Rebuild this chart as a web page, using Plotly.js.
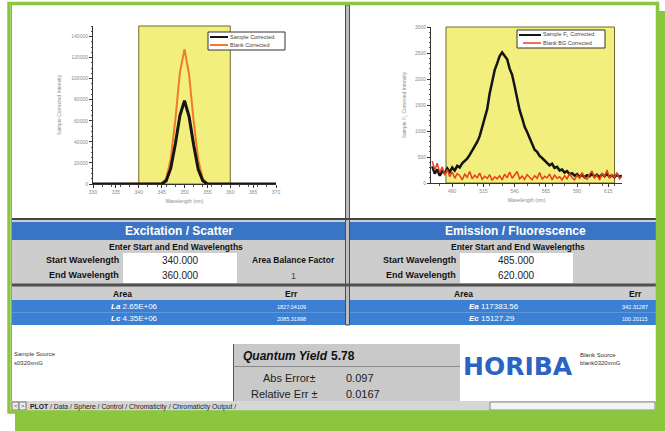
<!DOCTYPE html>
<html>
<head>
<meta charset="utf-8">
<script src="https://cdn.plot.ly/plotly-3.0.1.min.js"></script>
<style>html,body{margin:0;padding:0;background:#fff;}#chart{width:665px;height:431px;}</style>
</head>
<body>
<div id="chart"></div>
<script>
// ---------- data ----------
const exWavelength = [330, 335, 340, 343, 344, 345, 346, 347, 348, 349, 350, 351, 352, 353, 354, 355, 356, 357, 360, 365, 370];
const exSample     = [0, 0, 0, 0, 0, 0, 3000, 15000, 38000, 65000, 79000, 64000, 37000, 14000, 3000, 0, 0, 0, 0, 0, 0];
const exBlank      = [0, 0, 0, 0, 0, 500, 5000, 24000, 61000, 106000, 128000, 104000, 60000, 23000, 5000, 500, 0, 0, 0, 0, 0];

const emWavelength = [474,476,478,480,482,484,486,488,490,492,494,496,498,500,502,504,506,508,510,512,514,516,518,520,522,524,526,528,530,532,534,536,538,540,542,544,546,548,550,552,554,556,558,560,562,564,566,568,570,572,574,576,578,580,582,584,586,588,590,592,594,596,598,600,602,604,606,608,610,612,614,616,618,620,622,624,626];
const emSample = [320,180,260,140,230,190,280,210,300,240,330,300,380,420,470,540,620,720,790,900,1060,1250,1420,1720,1960,2170,2300,2440,2510,2450,2380,2200,2080,1860,1620,1400,1250,1080,980,860,760,640,600,520,480,430,400,340,370,290,310,240,260,200,230,170,190,140,170,120,160,110,150,130,180,120,160,110,170,130,180,120,150,110,160,120,140];
const emBlank  = [420,250,380,200,310,150,260,120,210,90,180,140,60,170,110,220,80,150,100,190,70,130,90,160,50,120,80,140,60,170,100,210,90,150,220,80,130,70,160,110,60,140,90,200,70,130,100,170,60,150,90,120,60,140,80,180,100,60,150,90,200,110,70,170,230,100,150,60,190,120,250,90,160,110,200,80,130];

const exWindow = [340, 360];
const emWindow = [485, 620];

const exTicks = [330, 335, 340, 345, 350, 355, 360, 365, 370];
const emTicks = [490, 515, 540, 565, 590, 615];

const seriesNames = ['Sample Corrected', 'Blank Corrected', 'Sample F<sub>L</sub> Corrected', 'Blank BG Corrected'];
const seriesColors = ['#151515', '#f07a2a', '#151515', '#e8401c'];

// ---------- helpers ----------
const W = 665, H = 431;
const F = 'Liberation Sans, Arial, sans-serif';
const px = x => x / W;
const py = y => 1 - y / H;
const shapes = [];
const anns = [];
function rect(x0, y0, x1, y1, fill, line, lw, layer) {
  shapes.push({type:'rect', xref:'paper', yref:'paper', x0:px(x0), x1:px(x1), y0:py(y1), y1:py(y0),
    fillcolor:fill, line:{color:line || fill, width:lw || 0}, layer:layer || 'below'});
}
function hline(x0, x1, y, color, w) {
  shapes.push({type:'line', xref:'paper', yref:'paper', x0:px(x0), x1:px(x1), y0:py(y), y1:py(y), line:{color:color, width:w}, layer:'above'});
}
function vline(x, y0, y1, color, w) {
  shapes.push({type:'line', xref:'paper', yref:'paper', x0:px(x), x1:px(x), y0:py(y0), y1:py(y1), line:{color:color, width:w}, layer:'above'});
}
function t(text, x, y, o) {
  o = o || {};
  anns.push({xref:'paper', yref:'paper', x:px(x), y:py(y), text:text, showarrow:false,
    xanchor:o.xa || 'center', yanchor:'middle', borderpad:0,
    font:{family:o.f || F, size:o.s || 9, color:o.c || '#111'}});
}

// ---------- table / UI ----------
rect(11, 220, 656, 325, '#cdcdcd');
rect(11, 222, 345, 240, '#3a74c4');
rect(350, 222, 656, 240, '#3a74c4');
rect(123, 253, 237, 283, '#ffffff');
rect(460, 253, 573, 283, '#ffffff');
rect(11, 300, 345, 325, '#3b80d3');
rect(350, 300, 656, 325, '#3b80d3');
hline(11, 656, 285, '#505050', 3);
hline(11, 345, 312.5, '#5d97dc', 1);
hline(350, 656, 312.5, '#5d97dc', 1);
hline(11, 656, 219, '#444444', 2);
rect(345.5, 5, 349.5, 325, '#bdbdbd', '#4a4a4a', 1);
vline(11.5, 5, 401, '#9a9a9a', 1);

// quantum yield box
rect(233, 344, 460, 401, '#c9c9c9');
vline(233.5, 344, 401, '#555555', 1);
hline(233, 460, 366.5, '#8a8a8a', 1);

// tabs bar
rect(11, 401, 656, 411, '#d6d6d6');
rect(12, 402, 19, 410, '#eeeeee', '#777', 1);
rect(19, 402, 26, 410, '#eeeeee', '#777', 1);
rect(490, 402, 655, 410, '#f4f4f4', '#888', 1);

// green frame
rect(15, 412, 665, 431, '#8cc63f', '#8cc63f', 0, 'above');
rect(656, 11, 665, 431, '#8cc63f', '#8cc63f', 0, 'above');
shapes.push({type:'rect', xref:'paper', yref:'paper', x0:px(9), x1:px(657.5), y0:py(412), y1:py(3.5),
  line:{color:'#8cc63f', width:3.5}, fillcolor:'rgba(0,0,0,0)', layer:'above'});

// chart keys (legend boxes)
rect(208, 32, 285, 50, '#ffffff', '#333333', 1, 'above');
hline(210, 228, 37, seriesColors[0], 2);
hline(210, 228, 45, seriesColors[1], 2);
t(seriesNames[0], 229, 37, {s:5.5, c:'#444', xa:'left'});
t(seriesNames[1], 229, 45, {s:5.5, c:'#444', xa:'left'});
rect(517, 30, 605, 48, '#ffffff', '#333333', 1, 'above');
hline(519, 541, 35, seriesColors[2], 2);
hline(523, 541, 43, seriesColors[3], 1.5);
t(seriesNames[2], 542, 35, {s:5.5, c:'#444', xa:'left'});
t(seriesNames[3], 542, 43, {s:5.5, c:'#444', xa:'left'});

// texts
t('<b>Excitation / Scatter</b>', 179, 231, {s:12, c:'#ffffff'});
t('<b>Emission / Fluorescence</b>', 515, 231, {s:12, c:'#ffffff'});
t('<b>Enter Start and End Wavelengths</b>', 176, 246.5, {s:8.5});
t('<b>Enter Start and End Wavelengths</b>', 518, 246.5, {s:8.5});
t('<b>Start Wavelength</b>', 120, 259.5, {s:9, xa:'right'});
t('<b>End Wavelength</b>', 120, 275, {s:9, xa:'right'});
t('340.000', 180, 260, {s:10, c:'#222'});
t('360.000', 180, 275.5, {s:10, c:'#222'});
t('<b>Area Balance Factor</b>', 293, 260, {s:8.5});
t('1', 293, 276, {s:9, c:'#444'});
t('<b>Start Wavelength</b>', 457, 259.5, {s:9, xa:'right'});
t('<b>End Wavelength</b>', 457, 275, {s:9, xa:'right'});
t('485.000', 516, 260, {s:10, c:'#222'});
t('620.000', 516, 275.5, {s:10, c:'#222'});
t('<b>Area</b>', 122, 293.5, {s:8.5});
t('<b>Err</b>', 291, 293.5, {s:8.5});
t('<b>Area</b>', 463, 293.5, {s:8.5});
t('<b>Err</b>', 635, 293.5, {s:8.5});
t('<b><i>La</i></b> 2.65E+06', 110, 306.5, {s:8, c:'#ffffff', xa:'left'});
t('<b><i>Lc</i></b> 4.35E+06', 110, 318.5, {s:8, c:'#ffffff', xa:'left'});
t('1827.04109', 291, 306.5, {s:5.5, c:'#ffffff'});
t('2085.31998', 291, 318.5, {s:5.5, c:'#ffffff'});
t('<b><i>Ea</i></b> 117383.56', 468, 306.5, {s:8, c:'#ffffff', xa:'left'});
t('<b><i>Ec</i></b> 15127.29', 468, 318.5, {s:8, c:'#ffffff', xa:'left'});
t('342.31287', 635, 306.5, {s:5.5, c:'#ffffff'});
t('100.20115', 635, 318.5, {s:5.5, c:'#ffffff'});

t('Sample Source', 13, 354, {s:6, c:'#333', xa:'left'});
t('s0320xmG', 13, 363, {s:6, c:'#333', xa:'left'});
t('<b><i>Quantum Yield</i></b>', 242, 356, {s:12, xa:'left'});
t('<b>5.78</b>', 330, 356, {s:12, xa:'left'});
t('Abs Error±', 262, 378, {s:11, c:'#222', xa:'left'});
t('0.097', 345, 378, {s:11, c:'#222', xa:'left'});
t('Relative Err ±', 250, 394, {s:11, c:'#222', xa:'left'});
t('0.0167', 345, 394, {s:11, c:'#222', xa:'left'});
t('<b>HORIBA</b>', 462, 366, {s:25, c:'#2a63c2', xa:'left', f:'DejaVu Sans, sans-serif'});
t('Blank Source', 579, 355, {s:6, c:'#333', xa:'left'});
t('blank0320xmG', 579, 363, {s:6, c:'#333', xa:'left'});
t('<', 15.5, 406, {s:6, c:'#333'});
t('>', 22.5, 406, {s:6, c:'#333'});
t('<b>PLOT</b> / Data / Sphere / Control / Chromaticity / Chromaticity Output /', 29, 406.5, {s:6.8, c:'#222', xa:'left'});

// ---------- traces ----------
const traces = [
  {x: exWavelength, y: exBlank, type:'scatter', mode:'lines', name: seriesNames[1],
   line:{color:seriesColors[1], width:2}, xaxis:'x', yaxis:'y', showlegend:false},
  {x: exWavelength, y: exSample, type:'scatter', mode:'lines', name: seriesNames[0],
   line:{color:seriesColors[0], width:3}, xaxis:'x', yaxis:'y', showlegend:false},
  {x: emWavelength, y: emSample, type:'scatter', mode:'lines', name: seriesNames[2],
   line:{color:seriesColors[2], width:2.5}, xaxis:'x2', yaxis:'y2', showlegend:false},
  {x: emWavelength, y: emBlank, type:'scatter', mode:'lines', name: seriesNames[3],
   line:{color:seriesColors[3], width:1.5}, xaxis:'x2', yaxis:'y2', showlegend:false}
];

// yellow integration windows
shapes.push({type:'rect', xref:'x', yref:'y domain', x0:exWindow[0], x1:exWindow[1], y0:0, y1:1,
  fillcolor:'#f3ef7e', line:{color:'#6e6a2c', width:1}, layer:'below'});
shapes.push({type:'rect', xref:'x2', yref:'y2 domain', x0:emWindow[0], x1:emWindow[1], y0:0, y1:1,
  fillcolor:'#f3ef7e', line:{color:'#6e6a2c', width:1}, layer:'below'});

const tickF = {family:F, size:5, color:'#8a8a8a'};
const titleF = {family:F, size:5, color:'#8a8a8a'};
const axBase = {showline:true, linecolor:'#333', linewidth:1, ticks:'outside', ticklen:3, tickcolor:'#333',
  showgrid:false, zeroline:false, tickfont:tickF, fixedrange:true,
  minor:{ticks:'outside', ticklen:1.5, tickcolor:'#555'}};

const layout = {
  width: W, height: H,
  margin:{l:0, r:0, t:0, b:0},
  paper_bgcolor:'#ffffff', plot_bgcolor:'#ffffff',
  font:{family:F},
  showlegend:false,
  xaxis: Object.assign({}, axBase, {domain:[px(93), px(276)], range:[330, 370], tickvals:exTicks,
    title:{text:'Wavelength (nm)', font:titleF, standoff:5}, anchor:'y'}),
  yaxis: Object.assign({}, axBase, {domain:[py(184), py(26)], range:[0, 150000], dtick:20000, tickformat:'d',
    title:{text:'Sample Corrected Intensity', font:titleF, standoff:9}, anchor:'x'}),
  xaxis2: Object.assign({}, axBase, {domain:[px(431), px(622)], range:[473, 626], tickvals:emTicks,
    title:{text:'Wavelength (nm)', font:titleF, standoff:5}, anchor:'y2'}),
  yaxis2: Object.assign({}, axBase, {domain:[py(183), py(27)], range:[0, 3000], dtick:500, tickformat:'d',
    title:{text:'Sample F<sub>L</sub> Corrected Intensity', font:titleF, standoff:8}, anchor:'x2'}),
  shapes: shapes,
  annotations: anns
};

Plotly.newPlot('chart', traces, layout, {staticPlot:true, displayModeBar:false});
</script>
</body>
</html>
